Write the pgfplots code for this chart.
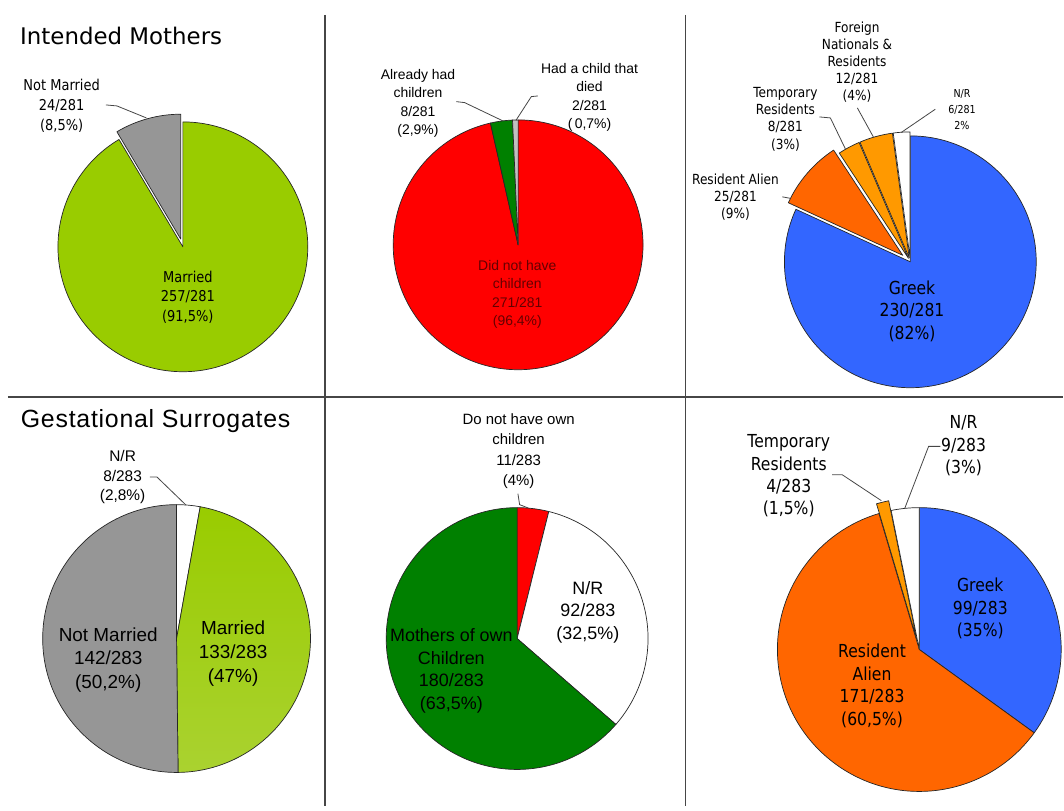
\documentclass[border=0pt]{standalone}
\usepackage{pgfplots}
\pgfplotsset{compat=1.18}
\usetikzlibrary{calc}
\usepackage{fontspec}
\setmainfont{DejaVu Sans}
\newfontfamily\verd{DejaVu Sans}
\newfontfamily\taho[FakeStretch=0.87]{DejaVu Sans}
\newfontfamily\ari{Liberation Sans}
\newfontfamily\ariT[LetterSpace=3]{Liberation Sans}
\definecolor{ygreen}{RGB}{153,204,0}
\definecolor{ygreenb}{RGB}{170,210,48}
\definecolor{mgray}{RGB}{150,150,150}
\definecolor{lgray}{RGB}{192,192,192}
\definecolor{pred}{RGB}{255,0,0}
\definecolor{dgreen}{RGB}{0,128,0}
\definecolor{pblue}{RGB}{51,102,255}
\definecolor{orangeA}{RGB}{255,102,0}
\definecolor{orangeB}{RGB}{255,153,0}
\definecolor{dred}{RGB}{100,0,0}
\definecolor{frame}{RGB}{70,70,70}
% #1 cx, #2 cy, #3 radius, #4 cumulative count before slice, #5 count, #6 total, #7 style, #8 explode
\newcommand{\pieslice}[8]{%
  \path[draw=black!85, line width=0.7bp, line join=round, #7]
    ($(axis cs:#1,#2)+({90-(#4+0.5*#5)/#6*360}:#8bp)$) -- ++({90-#4/#6*360}:#3bp)
    arc[start angle={90-#4/#6*360}, end angle={90-(#4+#5)/#6*360}, radius=#3bp] -- cycle;}
% #1 x, #2 y, #3 font, #4 colour, #5 text
\newcommand{\lbl}[5]{\node[align=center, inner sep=0pt, font=#3, text=#4] at (axis cs:#1,#2) {#5};}
\newcommand{\tA}{\taho\fontsize{15}{20}\selectfont}
\newcommand{\tB}{\taho\fontsize{14}{17.3}\selectfont}
\newcommand{\tC}{\taho\fontsize{11}{16}\selectfont}
\newcommand{\tD}{\taho\fontsize{18}{22.5}\selectfont}
\newcommand{\aA}{\ari\fontsize{14}{18.4}\selectfont}
\newcommand{\aB}{\ari\fontsize{15.5}{19.5}\selectfont}
\newcommand{\aC}{\ari\fontsize{19}{23.8}\selectfont}
\newcommand{\aD}{\ari\fontsize{15}{20.2}\selectfont}
\newcommand{\aE}{\ari\fontsize{18}{22.6}\selectfont}
\begin{document}
\begin{tikzpicture}
\begin{axis}[width=1064bp, height=807bp, scale only axis, xmin=0, xmax=1064, ymin=0, ymax=807,
  y dir=reverse, hide axis, clip=false]
\path (axis cs:0,0) rectangle (axis cs:1064,807);
% frame
\draw[frame, line width=1.6bp] (axis cs:325,15) -- (axis cs:325,807);
\draw[frame, line width=1.6bp] (axis cs:686,15) -- (axis cs:686,807);
\draw[frame, line width=1.6bp] (axis cs:8,397) -- (axis cs:1064,397);
% ---------- Intended Mothers: marital status (n=281)
\pieslice{183}{247}{125}{0}{257}{281}{fill=ygreen}{0}
\pieslice{183}{247}{125}{257}{24}{281}{fill=mgray}{8}
% ---------- Intended Mothers: children (n=281)
\pieslice{518.5}{245}{125}{0}{271}{281}{fill=pred}{0}
\pieslice{518.5}{245}{125}{271}{8}{281}{fill=dgreen}{0}
\pieslice{518.5}{245}{125}{279}{2}{281}{fill=lgray}{0}
% ---------- Intended Mothers: nationality (n=281)
\pieslice{911}{262}{126}{0}{230}{281}{fill=pblue}{0}
\pieslice{911}{262}{126}{230}{25}{281}{fill=orangeA}{10}
\pieslice{911}{262}{126}{255}{8}{281}{fill=orangeB}{4}
\pieslice{911}{262}{126}{263}{12}{281}{fill=orangeB}{4}
\pieslice{911}{262}{126}{275}{6}{281}{fill=white}{4}
% ---------- Surrogates: marital status (n=283)
\pieslice{176.7}{639}{134}{0}{8}{283}{fill=white}{0}
\pieslice{176.7}{639}{134}{8}{133}{283}{top color=ygreen, bottom color=ygreenb}{0}
\pieslice{176.7}{639}{134}{141}{142}{283}{fill=mgray}{0}
% ---------- Surrogates: children (n=283)
\pieslice{517.5}{639}{131}{0}{11}{283}{fill=pred}{0}
\pieslice{517.5}{639}{131}{11}{92}{283}{fill=white}{0}
\pieslice{517.5}{639}{131}{103}{180}{283}{fill=dgreen}{0}
% ---------- Surrogates: nationality (n=283)
\pieslice{920}{650}{142}{0}{99}{283}{fill=pblue}{0}
\pieslice{920}{650}{142}{99}{171}{283}{fill=orangeA}{0}
\pieslice{920}{650}{142}{270}{4}{283}{fill=orangeB}{10}
\pieslice{920}{650}{142}{274}{9}{283}{fill=white}{0}
% ---------- leader lines
\begin{scope}[frame, line width=0.8bp]
\draw (axis cs:106,105) -- (axis cs:117,106) -- (axis cs:146.5,118);
\draw (axis cs:456.7,101.7) -- (axis cs:465,102.7) -- (axis cs:503.3,121);
\draw (axis cs:538.3,96) -- (axis cs:531.7,96.7) -- (axis cs:516.3,120.5);
\draw (axis cs:783,197) -- (axis cs:791,198.5);
\draw (axis cs:820,117) -- (axis cs:831,118) -- (axis cs:846,149);
\draw (axis cs:858,108) -- (axis cs:874,137);
\draw (axis cs:936,109.3) -- (axis cs:902,132.5);
\draw (axis cs:150,477.3) -- (axis cs:157,477.3) -- (axis cs:186,505.3);
\draw (axis cs:518.3,494) -- (axis cs:520,505) -- (axis cs:528.9,508.5);
\draw (axis cs:832.7,475) -- (axis cs:842.7,475) -- (axis cs:882,501);
\draw (axis cs:941,446.7) -- (axis cs:929.3,446.7) -- (axis cs:905.5,508.5);
\end{scope}
% ---------- titles
\node[anchor=base west, inner sep=0pt, font={\verd\fontsize{23}{28}\selectfont}] at (axis cs:20,45) {Intended Mothers};
\node[anchor=base west, inner sep=0pt, font={\ariT\fontsize{25}{30}\selectfont}] at (axis cs:20.7,428.3) {Gestational Surrogates};
% ---------- labels
\lbl{61.7}{105.5}{\tA}{black}{Not Married\\24/281\\(8,5\%)}
\lbl{188}{297.5}{\tA}{black}{Married\\257/281\\(91,5\%)}
\lbl{418.3}{103.5}{\aA}{black}{Already had\\children\\8/281\\(2,9\%)}
\lbl{590}{97.5}{\aA}{black}{Had a child that\\died\\2/281\\(\,0,7\%)}
\lbl{517.7}{294.6}{\aA}{dred}{Did not have\\children\\271/281\\(96,4\%)}
\lbl{857.7}{62.2}{\tB}{black}{Foreign\\Nationals \&\\Residents\\12/281\\(4\%)}
\lbl{786}{119.2}{\tB}{black}{Temporary\\Residents\\8/281\\(3\%)}
\lbl{736}{197.5}{\tB}{black}{Resident Alien\\25/281\\(9\%)}
\lbl{962.7}{110}{\tC}{black}{N/R\\6/281\\2\%}
\lbl{912.7}{311.5}{\tD}{black}{Greek\\230/281\\(82\%)}
\lbl{122.7}{477.7}{\aB}{black}{N/R\\8/283\\(2,8\%)}
\lbl{108.3}{660.3}{\aC}{black}{Not Married\\142/283\\(50,2\%)}
\lbl{233.3}{654.2}{\aC}{black}{Married\\133/283\\(47\%)}
\lbl{519}{451.5}{\aD}{black}{Do not have own\\children\\11/283\\(4\%)}
\lbl{588.3}{612.7}{\aE}{black}{N/R\\92/283\\(32,5\%)}
\lbl{451.7}{671.3}{\aE}{black}{Mothers of own\\Children\\180/283\\(63,5\%)}
\lbl{789.3}{476.2}{\tD}{black}{Temporary\\Residents\\4/283\\(1,5\%)}
\lbl{964.3}{446.2}{\tD}{black}{N/R\\9/283\\(3\%)}
\lbl{981}{609.2}{\tD}{black}{Greek\\99/283\\(35\%)}
\lbl{872.7}{686.4}{\tD}{black}{Resident\\Alien\\171/283\\(60,5\%)}
\end{axis}
\end{tikzpicture}
\end{document}
